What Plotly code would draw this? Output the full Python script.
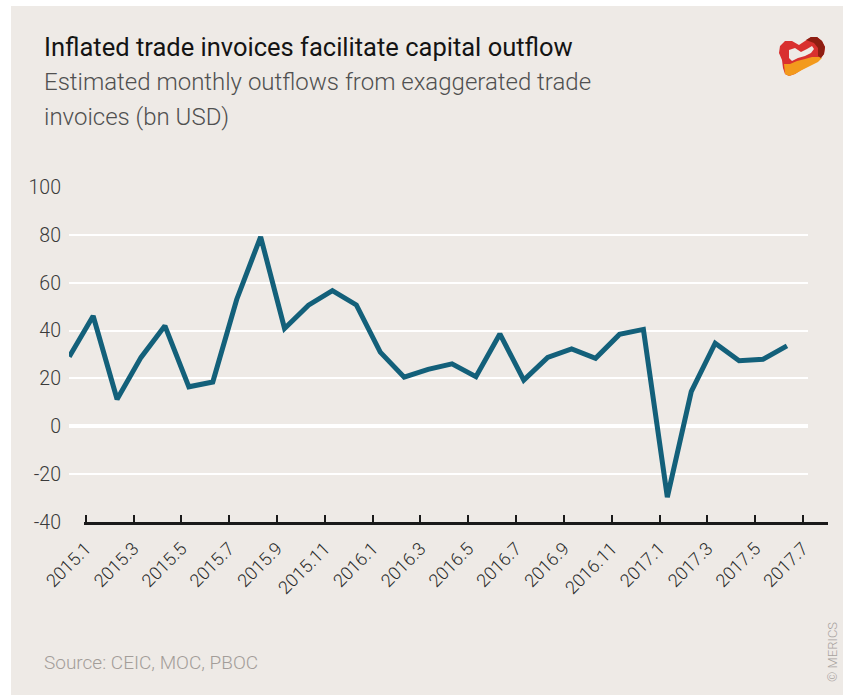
import plotly.graph_objects as go

# ---- data ----
months = ["2015.1","2015.2","2015.3","2015.4","2015.5","2015.6","2015.7","2015.8","2015.9","2015.10",
          "2015.11","2015.12","2016.1","2016.2","2016.3","2016.4","2016.5","2016.6","2016.7","2016.8",
          "2016.9","2016.10","2016.11","2016.12","2017.1","2017.2","2017.3","2017.4","2017.5","2017.6","2017.7"]
outflows = [29.1, 46.1, 11.3, 28.8, 42.0, 16.5, 18.5, 53.0, 79.2, 40.9,
            50.6, 56.7, 50.7, 31.0, 20.5, 23.8, 26.1, 20.7, 38.6, 19.3,
            28.8, 32.3, 28.4, 38.4, 40.5, -29.6, 14.5, 34.7, 27.4, 28.0, 33.6]
tick_labels = ["2015.1","2015.3","2015.5","2015.7","2015.9","2015.11","2016.1","2016.3",
               "2016.5","2016.7","2016.9","2016.11","2017.1","2017.3","2017.5","2017.7"]
y_ticks = [-40, -20, 0, 20, 40, 60, 80, 100]
y_tick_labels = ["-40", "-20", "0", "20", "40", "60", "80", "100"]

W, H = 843, 695
L_PX, R_PX, T_PX, B_PX = 69, 828, 187, 522
PW, PH = R_PX - L_PX, B_PX - T_PX

def px(x):
    return (x - L_PX) / PW

def py(y):
    return 1 - (y - T_PX) / PH

FONT = "Roboto, sans-serif"
BG = "#EEEAE6"
LINE = "#13607A"

idx = list(range(len(months)))
# tick positions sit slightly right of the month points (as in the original)
tick_pos = [2 * k + 0.686 for k in range(len(tick_labels))]

fig = go.Figure()
fig.add_trace(go.Scatter(x=idx, y=outflows, mode="lines",
                         line=dict(color=LINE, width=5), hoverinfo="skip",
                         xaxis="x", yaxis="y", showlegend=False))
fig.add_trace(go.Scatter(x=idx, y=outflows, mode="lines",
                         line=dict(color="rgba(0,0,0,0)", width=0), hoverinfo="skip",
                         xaxis="x2", yaxis="y2", showlegend=False))

grid_end = 808
fig.update_layout(
    width=W, height=H,
    margin=dict(l=L_PX, r=W - R_PX, t=T_PX, b=H - B_PX, pad=0),
    paper_bgcolor="white", plot_bgcolor="rgba(0,0,0,0)",
    xaxis=dict(domain=[0, px(grid_end)], range=[-0.01, 30.88], showgrid=False,
               zeroline=False, showticklabels=False, showline=False, fixedrange=True),
    yaxis=dict(domain=[0, 1], range=[-40, 100], tickvals=y_ticks, ticktext=y_tick_labels,
               showgrid=True, gridcolor="white", gridwidth=1.5,
               zeroline=True, zerolinecolor="white", zerolinewidth=4,
               showline=False, ticks="", ticklabelstandoff=7,
               tickfont=dict(family=FONT, size=19.5, color="#3a3a3a", weight=300)),
    xaxis2=dict(domain=[px(84.3), 1], anchor="y2", range=[0.627, 31.73],
                tickvals=tick_pos, ticktext=tick_labels, tickangle=-45,
                showline=True, linecolor="#1a1a1a", linewidth=3,
                ticks="inside", ticklen=7, tickwidth=2, tickcolor="#1a1a1a",
                showgrid=False, zeroline=False, ticklabelstandoff=6,
                tickfont=dict(family=FONT, size=18, color="#2a2a2a", weight=300)),
    yaxis2=dict(domain=[0, 1], anchor="x2", range=[-40, 100], visible=False),
)

shapes = [dict(type="rect", xref="paper", yref="paper", layer="below",
               x0=px(11), x1=px(843), y0=py(695), y1=py(6),
               fillcolor=BG, line=dict(width=0))]

def path(points):
    return "M " + " L ".join(f"{px(a):.5f},{py(b):.5f}" for a, b in points) + " Z"

# logo approximation (decorative)
outer = [(780, 46), (785, 41), (792, 41), (799, 45), (805, 41), (811, 37), (817, 37), (822, 41),
         (825, 47), (824, 54), (820, 59), (814, 63), (808, 66), (801, 70), (795, 74), (789, 76),
         (785, 74), (783, 68), (782, 60), (779, 53)]
hole = [(789, 50), (795, 48), (801, 52), (807, 49), (812, 46), (814, 49), (811, 53), (805, 56),
        (798, 58), (792, 61), (789, 58)]
orange = [(784, 64), (790, 64), (797, 61), (805, 59), (812, 57), (819, 57), (822, 58), (818, 62),
          (810, 66), (802, 70), (795, 74), (789, 76), (785, 74)]
dark = [(806, 40), (811, 37), (817, 37), (822, 41), (825, 47), (824, 54), (821, 58), (818, 56),
        (818, 48), (814, 43)]
for pts, col in [(outer, "#D9302F"), (hole, BG), (orange, "#F39A1C"), (dark, "#8E1E12")]:
    shapes.append(dict(type="path", xref="paper", yref="paper", layer="above",
                       path=path(pts), fillcolor=col, line=dict(width=0)))
fig.update_layout(shapes=shapes)

ann = [
    dict(text="Inflated trade invoices facilitate capital outflow", x=px(42), y=py(47),
         font=dict(family=FONT, size=25.5, color="#141414", weight=400)),
    dict(text="Estimated monthly outflows from exaggerated trade", x=px(42), y=py(82),
         font=dict(family=FONT, size=24, color="#505050", weight=300)),
    dict(text="invoices (bn USD)", x=px(42), y=py(117),
         font=dict(family=FONT, size=24, color="#505050", weight=300)),
    dict(text="Source: CEIC, MOC, PBOC", x=px(42), y=py(662),
         font=dict(family=FONT, size=19, color="#a39d99", weight=300)),
]
for a in ann:
    a.update(xref="paper", yref="paper", xanchor="left", yanchor="middle", showarrow=False)
fig.update_layout(annotations=ann + [
    dict(text="© MERICS", x=px(832), y=py(652), xref="paper", yref="paper",
         xanchor="center", yanchor="middle", textangle=-90, showarrow=False,
         font=dict(family=FONT, size=13, color="#a8a29e", weight=300))])

fig.write_html("out.html", config={"displayModeBar": False},
               post_script="document.body.style.margin='0';")
